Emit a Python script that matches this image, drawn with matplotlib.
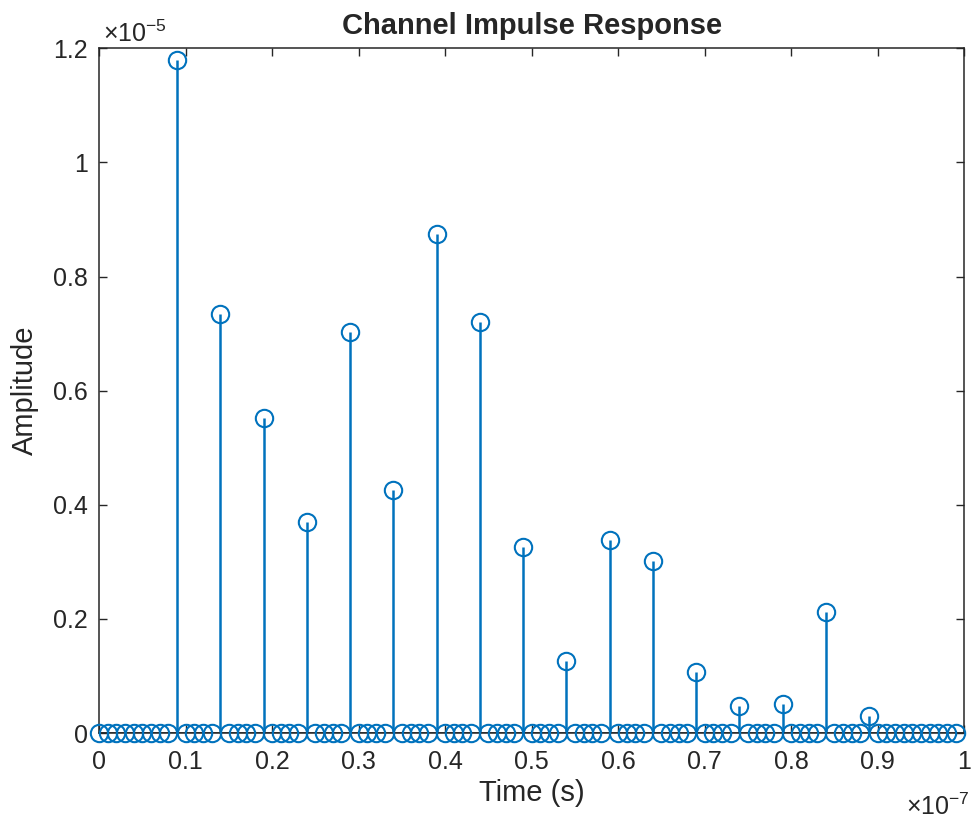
import numpy as np
import matplotlib.pyplot as plt
from matplotlib.ticker import FuncFormatter

plt.rcParams.update({
    'font.family': ['Liberation Sans', 'DejaVu Sans'],
    'mathtext.fontset': 'custom',
    'mathtext.rm': 'Liberation Sans',
    'axes.edgecolor': '#262626',
    'xtick.color': '#262626',
    'ytick.color': '#262626',
    'text.color': '#262626',
    'axes.labelcolor': '#262626',
})

# sample times (s): 100 samples spaced 1 ns
t = np.arange(100) * 1e-9

# nonzero taps: sample index and amplitude
tap_idx = [9, 14, 19, 24, 29, 34, 39, 44, 49, 54, 59, 64, 69, 74, 79, 84, 89]
tap_amp = [1.179, 0.734, 0.552, 0.370, 0.703, 0.426, 0.874, 0.720, 0.326,
           0.126, 0.338, 0.301, 0.107, 0.047, 0.051, 0.212, 0.030]

h = np.zeros(100)
h[tap_idx] = np.array(tap_amp) * 1e-5

color = '#0072BD'

fig = plt.figure(figsize=(9.72, 8.19), dpi=100)
ax = fig.add_axes([0.102, 0.105, 0.890, 0.836])

markerline, stemlines, baseline = ax.stem(t, h, basefmt=' ')
plt.setp(stemlines, color=color, linewidth=1.8, clip_on=False)
plt.setp(markerline, color=color, marker='o', markersize=12.5,
         markerfacecolor='none', markeredgewidth=1.5, clip_on=False, zorder=3)

ax.set_xlim(0, 1e-7)
ax.set_ylim(0, 1.2e-5)
ax.axhline(0, color='#262626', linewidth=1.2, zorder=1)

ax.set_xticks(np.arange(0, 11) * 1e-8)
ax.set_yticks(np.arange(0, 7) * 0.2e-5)
ax.xaxis.set_major_formatter(FuncFormatter(lambda v, p: '%g' % round(v / 1e-7, 3)))
ax.yaxis.set_major_formatter(FuncFormatter(lambda v, p: '%g' % round(v / 1e-5, 3)))

ax.tick_params(direction='in', length=6, width=1, labelsize=18, top=True, right=True,
               labeltop=False, labelright=False)
ax.tick_params(axis='x', pad=12)
ax.tick_params(axis='y', pad=8)
for s in ax.spines.values():
    s.set_linewidth(1.1)

ax.set_xlabel('Time (s)', fontsize=21, labelpad=4)
ax.set_ylabel('Amplitude', fontsize=21, labelpad=10)
ax.set_title('Channel Impulse Response', fontsize=21, fontweight='bold', pad=10)

ax.text(0.005, 1.009, r'$\mathregular{\times10^{-5}}$', transform=ax.transAxes,
        fontsize=18, ha='left', va='baseline')
ax.text(1.006, -0.12, r'$\mathregular{\times10^{-7}}$', transform=ax.transAxes,
        fontsize=18, ha='right', va='baseline')

fig.savefig('out.png', dpi=100)
